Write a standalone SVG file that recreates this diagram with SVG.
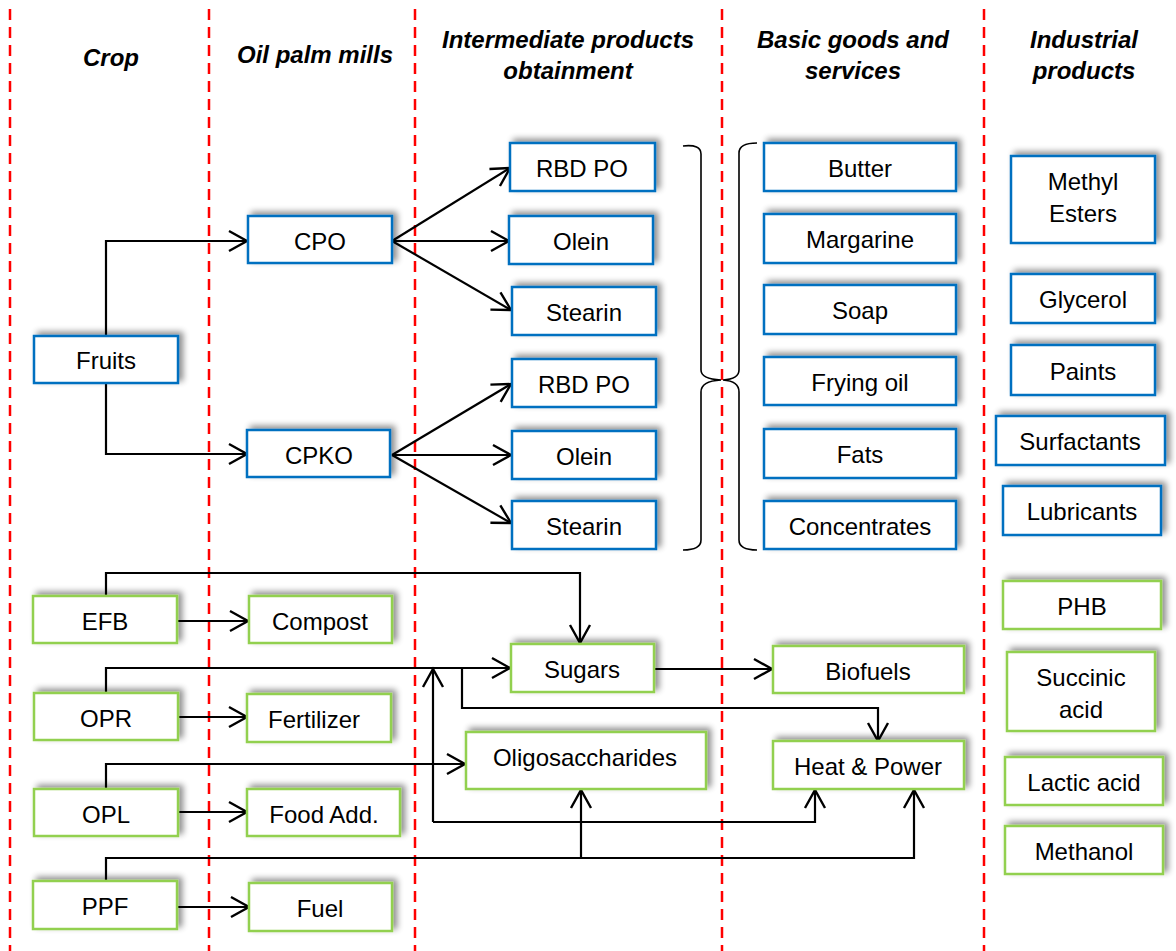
<svg xmlns="http://www.w3.org/2000/svg" width="1176" height="951" viewBox="0 0 1176 951">
<defs>
<filter id="sh" x="-20%" y="-40%" width="140%" height="180%">
<feGaussianBlur in="SourceAlpha" stdDeviation="3"/>
<feOffset dx="4" dy="-3"/>
<feComponentTransfer><feFuncA type="linear" slope="0.45"/></feComponentTransfer>
<feMerge><feMergeNode/><feMergeNode in="SourceGraphic"/></feMerge>
</filter>
<marker id="ar" markerUnits="userSpaceOnUse" viewBox="-22 -13 26 26" refX="0" refY="0" markerWidth="26" markerHeight="26" orient="auto">
<path d="M-18,-10 L0,0 L-18,10" fill="none" stroke="#000" stroke-width="2.4"/>
</marker>
<style>
.b rect{fill:#fff;stroke:#0070C0;stroke-width:2.5;filter:url(#sh)}
.g rect{fill:#fff;stroke:#92D050;stroke-width:2.5;filter:url(#sh)}
text{font-family:"Liberation Sans",Arial,sans-serif;font-size:24px;fill:#000;text-anchor:middle}
.h{font-weight:bold;font-style:italic}
.sep{stroke:#FF0000;stroke-width:2.5;stroke-dasharray:11 7}
.c path{fill:none;stroke:#000;stroke-width:2.2}
.c path.a{marker-end:url(#ar)}
.br{fill:none;stroke:#000;stroke-width:1.6}
</style>
</defs>
<rect width="1176" height="951" fill="#fff"/>
<g id="separators">
<line class="sep" x1="10" y1="9" x2="10" y2="951"/>
<line class="sep" x1="209" y1="9" x2="209" y2="951"/>
<line class="sep" x1="415" y1="9" x2="415" y2="951"/>
<line class="sep" x1="722" y1="9" x2="722" y2="951"/>
<line class="sep" x1="984" y1="9" x2="984" y2="951"/>
</g>
<g id="headers">
<text class="h" x="111" y="66">Crop</text>
<text class="h" x="315" y="63">Oil palm mills</text>
<text class="h" x="568" y="48">Intermediate products</text>
<text class="h" x="568" y="79">obtainment</text>
<text class="h" x="853" y="48">Basic goods and</text>
<text class="h" x="853" y="79">services</text>
<text class="h" x="1084" y="48">Industrial</text>
<text class="h" x="1084" y="79">products</text>
</g>
<g id="braces">
<path class="br" d="M683,146 Q701,144 701,154 L701,370 Q701,379 721,380 Q701,381 701,392 L701,540 Q701,550 683,550"/>
<path class="br" d="M757,143 Q739,143 739,153 L739,370 Q739,379 723,380 Q739,381 739,392 L739,540 Q739,550 757,550"/>
</g>
<g id="connectors" class="c">
<path class="a" d="M106,336 V241 H247"/>
<path class="a" d="M106,383 V454 H247"/>
<path class="a" d="M392,241 L510,168"/>
<path class="a" d="M392,241 L509,241"/>
<path class="a" d="M392,241 L511,310"/>
<path class="a" d="M392,455 L511,384"/>
<path class="a" d="M392,455 L511,455"/>
<path class="a" d="M392,455 L511,523"/>
<path class="a" d="M106,596 V573 H580 V643"/>
<path class="a" d="M177,621 H248"/>
<path class="a" d="M106,693 V668 H510"/>
<path class="a" d="M462,668 V708 H878 V741"/>
<path class="a" d="M178,717 H247"/>
<path class="a" d="M106,789 V764 H465"/>
<path class="a" d="M178,812 H247"/>
<path class="a" d="M433,822 V669"/>
<path class="a" d="M433,822 H815 V790"/>
<path class="a" d="M106,881 V858 H914 V790"/>
<path class="a" d="M581,858 V790"/>
<path class="a" d="M177,907 H249"/>
<path class="a" d="M654,669 H772"/>
</g>
<g id="n-fruits" class="b"><rect x="34" y="336" width="144" height="47"/><text x="106" y="369">Fruits</text></g>
<g id="n-cpo" class="b"><rect x="248" y="216" width="144" height="47"/><text x="320" y="250">CPO</text></g>
<g id="n-cpko" class="b"><rect x="247" y="430" width="143" height="47"/><text x="319" y="464">CPKO</text></g>
<g id="n-rbd1" class="b"><rect x="510" y="143" width="145" height="48"/><text x="582" y="177">RBD PO</text></g>
<g id="n-olein1" class="b"><rect x="509" y="216" width="144" height="48"/><text x="581" y="250">Olein</text></g>
<g id="n-stearin1" class="b"><rect x="512" y="287" width="144" height="48"/><text x="584" y="321">Stearin</text></g>
<g id="n-rbd2" class="b"><rect x="512" y="359" width="144" height="48"/><text x="584" y="393">RBD PO</text></g>
<g id="n-olein2" class="b"><rect x="512" y="431" width="144" height="48"/><text x="584" y="465">Olein</text></g>
<g id="n-stearin2" class="b"><rect x="512" y="501" width="144" height="48"/><text x="584" y="535">Stearin</text></g>
<g id="n-butter" class="b"><rect x="764" y="143" width="192" height="48"/><text x="860" y="177">Butter</text></g>
<g id="n-margarine" class="b"><rect x="764" y="214" width="192" height="49"/><text x="860" y="248">Margarine</text></g>
<g id="n-soap" class="b"><rect x="764" y="285" width="192" height="49"/><text x="860" y="319">Soap</text></g>
<g id="n-frying" class="b"><rect x="764" y="357" width="192" height="48"/><text x="860" y="391">Frying oil</text></g>
<g id="n-fats" class="b"><rect x="764" y="429" width="192" height="49"/><text x="860" y="463">Fats</text></g>
<g id="n-concentrates" class="b"><rect x="764" y="501" width="192" height="48"/><text x="860" y="535">Concentrates</text></g>
<g id="n-methyl" class="b"><rect x="1011" y="156" width="144" height="87"/><text x="1083" y="190">Methyl</text><text x="1083" y="222">Esters</text></g>
<g id="n-glycerol" class="b"><rect x="1011" y="274" width="144" height="49"/><text x="1083" y="308">Glycerol</text></g>
<g id="n-paints" class="b"><rect x="1011" y="345" width="144" height="50"/><text x="1083" y="380">Paints</text></g>
<g id="n-surfactants" class="b"><rect x="996" y="416" width="169" height="49"/><text x="1080" y="450">Surfactants</text></g>
<g id="n-lubricants" class="b"><rect x="1003" y="486" width="158" height="49"/><text x="1082" y="520">Lubricants</text></g>
<g id="n-efb" class="g"><rect x="33" y="596" width="144" height="47"/><text x="105" y="630">EFB</text></g>
<g id="n-compost" class="g"><rect x="249" y="596" width="143" height="47"/><text x="320" y="630">Compost</text></g>
<g id="n-opr" class="g"><rect x="34" y="693" width="144" height="47"/><text x="106" y="727">OPR</text></g>
<g id="n-fertilizer" class="g"><rect x="247" y="694" width="144" height="48"/><text x="314" y="728">Fertilizer</text></g>
<g id="n-opl" class="g"><rect x="34" y="789" width="144" height="47"/><text x="106" y="823">OPL</text></g>
<g id="n-foodadd" class="g"><rect x="247" y="789" width="153" height="47"/><text x="324" y="823">Food Add.</text></g>
<g id="n-ppf" class="g"><rect x="33" y="881" width="144" height="48"/><text x="105" y="915">PPF</text></g>
<g id="n-fuel" class="g"><rect x="249" y="883" width="143" height="48"/><text x="320" y="917">Fuel</text></g>
<g id="n-sugars" class="g"><rect x="511" y="644" width="143" height="48"/><text x="582" y="678">Sugars</text></g>
<g id="n-biofuels" class="g"><rect x="773" y="646" width="191" height="47"/><text x="868" y="680">Biofuels</text></g>
<g id="n-oligo" class="g"><rect x="466" y="732" width="240" height="57"/><text x="585" y="766">Oligosaccharides</text></g>
<g id="n-heat" class="g"><rect x="773" y="741" width="191" height="48"/><text x="868" y="775">Heat &amp; Power</text></g>
<g id="n-phb" class="g"><rect x="1003" y="581" width="158" height="48"/><text x="1082" y="615">PHB</text></g>
<g id="n-succinic" class="g"><rect x="1007" y="652" width="148" height="79"/><text x="1081" y="686">Succinic</text><text x="1081" y="718">acid</text></g>
<g id="n-lactic" class="g"><rect x="1005" y="757" width="158" height="48"/><text x="1084" y="791">Lactic acid</text></g>
<g id="n-methanol" class="g"><rect x="1005" y="826" width="158" height="48"/><text x="1084" y="860">Methanol</text></g>
</svg>
